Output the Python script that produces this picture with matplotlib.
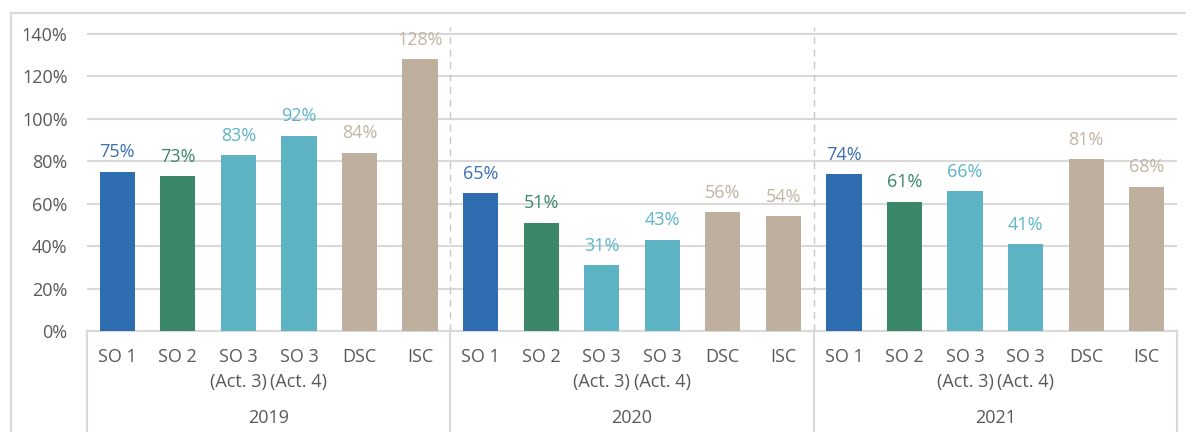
import numpy as np
import matplotlib
matplotlib.use("Agg")
import matplotlib.pyplot as plt
from matplotlib.lines import Line2D

plt.rcParams["font.family"] = ["Open Sans", "DejaVu Sans"]

years = ["2019", "2020", "2021"]
categories = ["SO 1", "SO 2", "SO 3\n(Act. 3)", "SO 3\n(Act. 4)", "DSC", "ISC"]
values = {
    "2019": [75, 73, 83, 92, 84, 128],
    "2020": [65, 51, 31, 43, 56, 54],
    "2021": [74, 61, 66, 41, 81, 68],
}
bar_colors = ["#2E6DB0", "#3A876A", "#5DB3C4", "#5DB3C4", "#BFAF9E", "#BFAF9E"]
label_colors = ["#3A70B3", "#3A876A", "#5DB6C7", "#5DB6C7", "#C2B3A2", "#C2B3A2"]
yticks = [0, 20, 40, 60, 80, 100, 120, 140]

grid_c = "#D9D9D9"
text_c = "#595959"
fs = 13

fig = plt.figure(figsize=(11.86, 4.32), dpi=100)
W, H = 1186, 432
ax_left, ax_right, ax_bot, ax_top = 87, 1177, 331, 27
ax = fig.add_axes([ax_left / W, 1 - ax_bot / H, (ax_right - ax_left) / W, (ax_bot - ax_top) / H])

ncat = len(categories)
x = 0
xs_all, labels_all = [], []
for gi, yr in enumerate(years):
    for ci, cat in enumerate(categories):
        v = values[yr][ci]
        ax.bar(x, v, width=0.58, color=bar_colors[ci], zorder=3)
        ax.annotate(f"{v}%", (x, v), xytext=(0, 7.5), textcoords="offset points",
                    ha="center", va="bottom", fontsize=fs, color=label_colors[ci])
        xs_all.append(x)
        labels_all.append(cat)
        x += 1

n = len(xs_all)
ax.set_xlim(-0.5, n - 0.5)
ax.set_ylim(0, 140 * (ax_bot - ax_top) / (ax_bot - 34))
ax.set_yticks(yticks)
ax.set_yticklabels([f"{t}%" for t in yticks], fontsize=fs, color=text_c)
ax.set_xticks(xs_all)
ax.set_xticklabels(labels_all, fontsize=fs, color=text_c, linespacing=1.55, va="top")
ax.tick_params(axis="both", length=0)
ax.tick_params(axis="y", pad=14)
ax.tick_params(axis="x", pad=12)

for y in yticks:
    ax.axhline(y, color=grid_c, lw=1.5, zorder=1)
for s in ["top", "right", "left"]:
    ax.spines[s].set_visible(False)
ax.spines["bottom"].set_color(grid_c)
ax.spines["bottom"].set_linewidth(1.5)

# group separators: dashed above axis, solid below
trans = ax.get_xaxis_transform()
below = -(H - ax_bot) / (ax_bot - ax_top)
for gi in range(len(years) + 1):
    xb = gi * ncat - 0.5
    if 0 < gi < len(years):
        ax.plot([xb, xb], [0, 1], transform=trans, color="#C8C8C8", lw=1,
                ls=(0, (5, 4)), zorder=2, clip_on=False)
    ax.plot([xb, xb], [0, below], transform=trans, color=grid_c, lw=1.5, clip_on=False)
for gi, yr in enumerate(years):
    xc = gi * ncat + (ncat - 1) / 2
    ax.text(xc, -(418 - ax_bot) / (ax_bot - ax_top), yr, transform=trans,
            ha="center", va="center", fontsize=fs, color=text_c)

# outer frame
fig.add_artist(Line2D([11 / W, 11 / W], [0, 1 - 13 / H], color=grid_c, lw=1.5))
fig.add_artist(Line2D([11 / W, 1], [1 - 13 / H, 1 - 13 / H], color=grid_c, lw=1.5))

fig.savefig("out.png", dpi=100, facecolor="white")
